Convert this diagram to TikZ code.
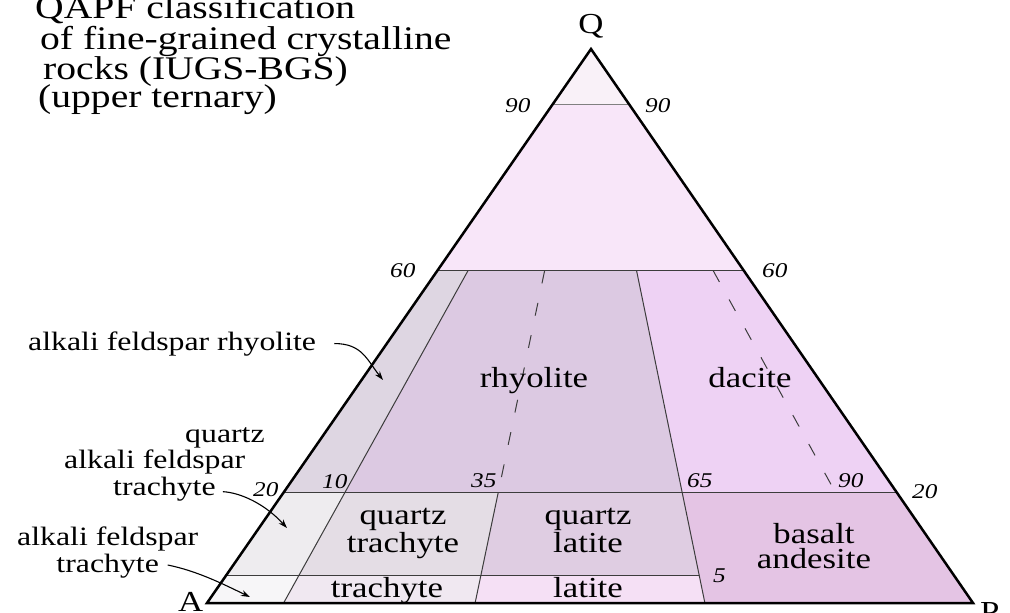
\documentclass[tikz,border=0pt]{standalone}
\usepackage{fontspec}
\setmainfont[FakeStretch=1.2]{Liberation Serif}
\usetikzlibrary{arrows.meta,calc,positioning}
\definecolor{capcol}{RGB}{249,241,248}
\definecolor{bandcol}{RGB}{248,230,249}
\definecolor{afrcol}{RGB}{222,214,226}
\definecolor{rhycol}{RGB}{220,201,226}
\definecolor{daccol}{RGB}{238,210,244}
\definecolor{qaftcol}{RGB}{238,236,239}
\definecolor{qtcol}{RGB}{228,221,229}
\definecolor{qlcol}{RGB}{223,205,226}
\definecolor{bacol}{RGB}{228,196,228}
\definecolor{aftcol}{RGB}{247,246,248}
\definecolor{trcol}{RGB}{240,232,241}
\definecolor{latcol}{RGB}{245,224,245}
\definecolor{divgray}{RGB}{60,60,60}
\tikzset{
  titlelabel/.style={font=\fontsize{33}{29}\selectfont,anchor=base west,inner sep=0pt},
  sidelabel/.style={font=\fontsize{26.5}{26.5}\selectfont,anchor=base west,inner sep=0pt},
  rocklabel/.style={font=\fontsize{29}{25}\selectfont,align=center,anchor=base,inner sep=0pt},
  ticklabel/.style={font=\fontsize{21}{21}\selectfont\itshape,anchor=base west,inner sep=0pt},
  cornerlabel/.style={font=\fontsize{29}{29}\selectfont,anchor=base west,inner sep=0pt},
  outline/.style={line width=2.5pt,line join=miter},
  divline/.style={line width=1pt,color=divgray},
  dashline/.style={divline,dash pattern=on 13pt off 20pt},
  callout/.style={-{Stealth[length=9pt,width=6pt]},line width=1.1pt}
}

\begin{document}
\begin{tikzpicture}[x=1pt,y=-1pt]
  \useasboundingbox (0,0) rectangle (1010,613);
  \fill[white] (0,0) rectangle (1010,613);

  %% corners
  \coordinate (A) at (207,603);
  \coordinate (P) at (973,603);
  \coordinate (Q) at (591,49);

  %% grid points: (p<Q%>-<P/(A+P)%>)
  \foreach \qv/\qn in {0/0,0.05/5,0.2/20,0.6/60,0.9/90}
    \foreach \rv/\rn in {0/0,0.1/10,0.35/35,0.65/65,0.9/90,1/100}{
      \coordinate (tmp) at ($(A)!\rv!(P)$);
      \coordinate (p\qn-\rn) at ($(tmp)!\qv!(Q)$);
    }

  %% fields
  \fill[capcol] (p90-0) -- (Q) -- (p90-100) -- cycle;
  \fill[bandcol] (p60-0) -- (p90-0) -- (p90-100) -- (p60-100) -- cycle;
  \fill[afrcol] (p20-0) -- (p60-0) -- (p60-10) -- (p20-10) -- cycle;
  \fill[rhycol] (p20-10) -- (p60-10) -- (p60-65) -- (p20-65) -- cycle;
  \fill[daccol] (p20-65) -- (p60-65) -- (p60-100) -- (p20-100) -- cycle;
  \fill[qaftcol] (p5-0) -- (p20-0) -- (p20-10) -- (p5-10) -- cycle;
  \fill[qtcol] (p5-10) -- (p20-10) -- (p20-35) -- (p5-35) -- cycle;
  \fill[qlcol] (p5-35) -- (p20-35) -- (p20-65) -- (p5-65) -- cycle;
  \fill[bacol] (p0-65) -- (p20-65) -- (p20-100) -- (p0-100) -- cycle;
  \fill[aftcol] (p0-0) -- (p5-0) -- (p5-10) -- (p0-10) -- cycle;
  \fill[trcol] (p0-10) -- (p5-10) -- (p5-35) -- (p0-35) -- cycle;
  \fill[latcol] (p0-35) -- (p5-35) -- (p5-65) -- (p0-65) -- cycle;

  %% boundaries
  \draw[divline,color=gray] (p90-0) -- (p90-100);
  \draw[divline] (p60-0) -- (p60-100);
  \draw[divline] (p20-0) -- (p20-100);
  \draw[divline] (p5-0) -- (p5-65);
  \draw[divline] (p60-10) -- (p0-10);
  \draw[divline] (p60-65) -- (p0-65);
  \draw[divline] (p20-35) -- (p0-35);
  \draw[dashline] (p60-35) -- (p20-35);
  \draw[dashline] (p60-90) -- (p20-90);
  \draw[outline] (A) -- (Q) -- (P) -- cycle;

  %% corner letters
  \node[cornerlabel,anchor=base] (lblQ) at (591,34) {Q};
  \node[cornerlabel] (lblA) at (178,611) {A};
  \node[cornerlabel] (lblP) at (980,621) {P};

  %% title
  \node[titlelabel] (title1) at (35,18) {QAPF classification};
  \node[titlelabel] (title2) at (40,49) {of fine-grained crystalline};
  \node[titlelabel] (title3) at (43,79) {rocks (IUGS-BGS)};
  \node[titlelabel] (title4) at (38,107) {(upper ternary)};

  %% tick values
  \node[ticklabel] (t90l) at (505,112) {90};
  \node[ticklabel] (t90r) at (645,112) {90};
  \node[ticklabel] (t60l) at (390,277) {60};
  \node[ticklabel] (t60r) at (762,277) {60};
  \node[ticklabel] (t20l) at (253,496) {20};
  \node[ticklabel] (t10) at (322,488) {10};
  \node[ticklabel] (t35) at (471,487) {35};
  \node[ticklabel] (t65) at (687,487) {65};
  \node[ticklabel] (t90b) at (838,487) {90};
  \node[ticklabel] (t20r) at (912,498) {20};
  \node[ticklabel] (t5) at (713,582) {5};

  %% rock names
  \node[rocklabel] (rhy) at (534,387) {rhyolite};
  \node[rocklabel] (dac) at (750,387) {dacite};
  \node[rocklabel] (qtr) at (403,552) {quartz\\trachyte};
  \node[rocklabel] (qlat) at (588,552) {quartz\\latite};
  \node[rocklabel] (tra) at (387,597) {trachyte};
  \node[rocklabel] (lat) at (588,597) {latite};
  \node[rocklabel] (bas) at (814,568) {basalt\\andesite};

  %% outside names with arrows
  \node[sidelabel] (afr) at (28,350) {alkali feldspar rhyolite};
  \node[sidelabel] (qaft1) at (185,442) {quartz};
  \node[sidelabel] (qaft2) at (64,468) {alkali feldspar};
  \node[sidelabel] (qaft3) at (113,495) {trachyte};
  \node[sidelabel,align=center,font=\fontsize{26.5}{27}\selectfont] (aft) at (17,572) {alkali feldspar\\trachyte};
  \coordinate (afrtip) at (383,380);
  \coordinate (qafttip) at (287,528);
  \coordinate (afttip) at (250,597);
  \draw[callout] ([xshift=18pt]afr.east) .. controls +(28,0) and +(-16,-20) .. (afrtip);
  \draw[callout] ([shift={(7,3)}]qaft3.east) .. controls +(18,1) and +(-22,-24) .. (qafttip);
  \draw[callout] ([shift={(60,-7)}]aft.base) .. controls +(30,6) and +(-25,-12) .. (afttip);
\end{tikzpicture}
\end{document}
